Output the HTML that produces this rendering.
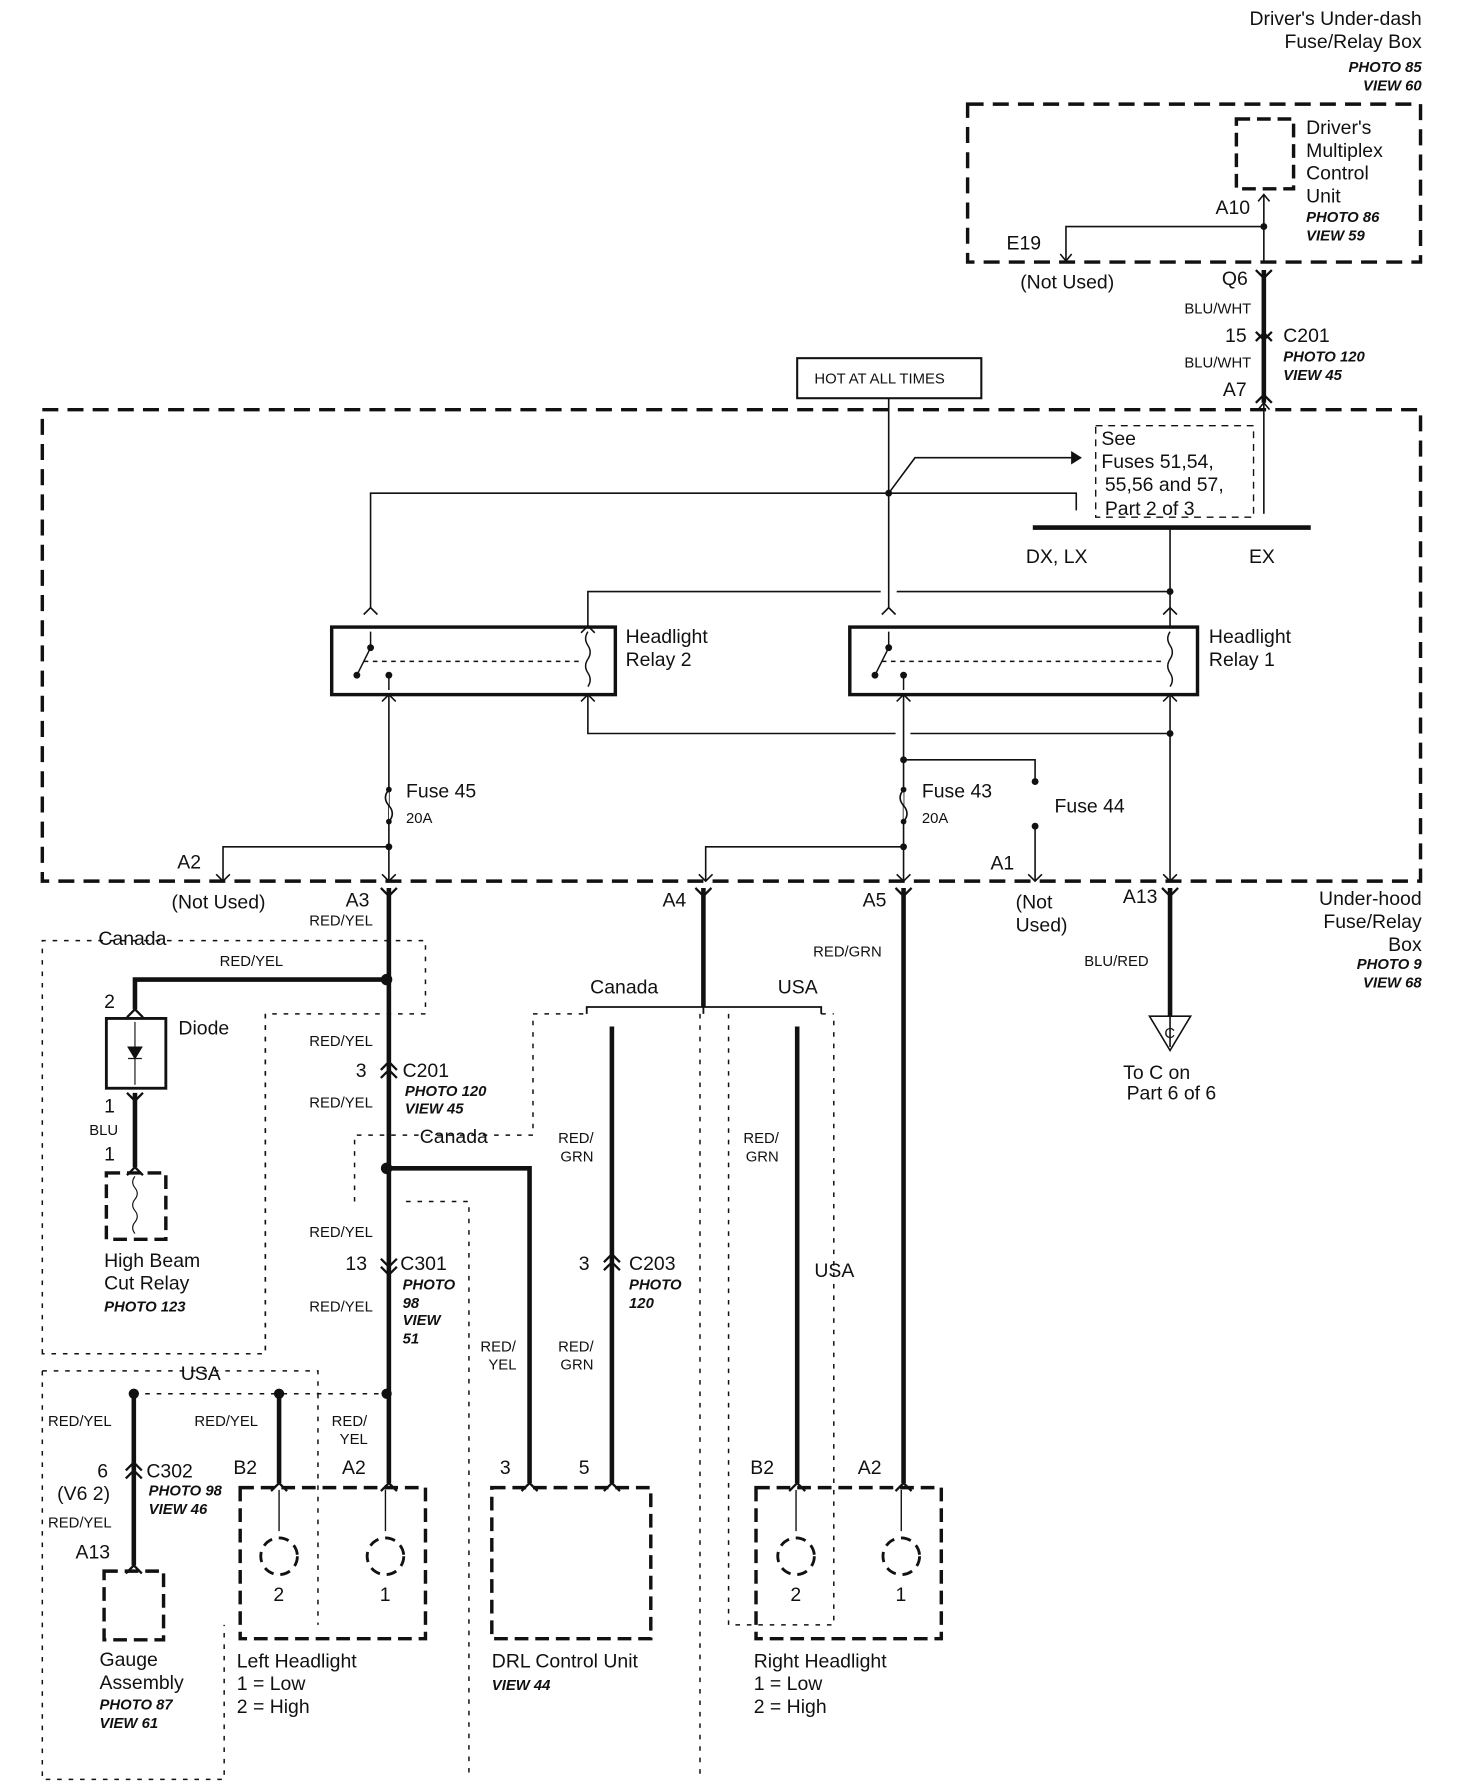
<!DOCTYPE html>
<html><head><meta charset="utf-8"><style>
html,body{margin:0;padding:0;background:#fff}
svg{display:block}
text{font-family:"Liberation Sans",sans-serif;fill:#111}
.t{font-size:17px}
.s{font-size:13px}
.i{font-size:13px;font-style:italic;font-weight:bold}
.r{text-anchor:end}
</style></head><body>
<svg width="1472" height="1792" viewBox="0 0 1287 1566" preserveAspectRatio="none" xmlns="http://www.w3.org/2000/svg">
<g fill="none" stroke="#111">
<rect x="846" y="91" width="396" height="138" stroke-width="3" stroke-dasharray="14 8"/>
<rect x="1081" y="104" width="50" height="61" stroke-width="3" stroke-dasharray="12 6"/>
<rect x="37" y="358" width="1205" height="412" stroke-width="3" stroke-dasharray="14 8"/>
<rect x="697" y="313" width="161" height="35" stroke-width="1.8"/>
<rect x="958" y="372" width="138" height="80" stroke-width="1.2" stroke-dasharray="6 5"/>
<rect x="290" y="548" width="248" height="59" stroke-width="3"/>
<rect x="743" y="548" width="304" height="59" stroke-width="3"/>
<g stroke-width="1.4">
<path d="M1105 170V229M932 228V198H1105"/>
<path d="M1100 176L1105 170L1110 176M927 222L932 228L937 222"/>
<path d="M777 348V531"/>
<path d="M324 531V431H941V446M777 431L800 400H945"/>
<path d="M1105 352V449"/>
<path d="M1023 461V547M514 547V517H770M784 517H1023"/>
<path d="M340 607V770M514 607V641H783M796 641H1023M790 607V770M1023 607V770"/>
<path d="M790 664H905V683M905 722V770M340 740H195V770M790 740H617V770"/>
<path d="M318 537L324 531L330 537M508 553L514 547L520 553M771 537L777 531L783 537M1017 537L1023 531L1029 537M334 613L340 607L346 613M508 613L514 607L520 613M784 613L790 607L796 613M1017 613L1023 607L1029 613"/>
<path d="M189 764L195 770L201 764M334 764L340 770L346 764M611 764L617 770L623 764M784 764L790 770L796 764M899 764L905 770L911 764M1017 764L1023 770L1029 764"/>
<path d="M1100 358L1105 352L1110 358"/>
</g>
<path d="M945 400L937 395V405Z" fill="#111"/>
<path d="M903 461H1146" stroke-width="4"/>
<path d="M340 690q-6 7 0 14q6 7 0 14M790 690q-6 7 0 14q6 7 0 14" stroke-width="1.4" fill="#fff"/>
<g stroke-width="1.3">
<path d="M324 552L324 566L312 590M777 552L777 566L765 590M340 590V603M790 590V603"/>
<path d="M318 578H508M771 578H1017" stroke-dasharray="4 4"/>
<path d="M514 552q-4 6 0 12q4 6 0 12q-4 6 0 12q4 6 0 12M1023 552q-4 6 0 12q4 6 0 12q-4 6 0 12q4 6 0 12"/>
</g>
<g stroke-width="4">
<path d="M1105 236V352M340 776V1296M615 776V880M790 776V1296M1023 776V888"/>
<path d="M338 856H118V882M118 955V1020M338 1021H463V1296M535 897V1296M697 897V1296M117 1218V1368M244 1218V1296"/>
</g>
<g stroke-width="2">
<path d="M1098 236L1105 243L1112 236M1098 290L1105 297L1112 290M1098 298L1105 291L1112 298M1098 352L1105 345L1112 352"/>
<path d="M333 776L340 783L347 776M608 776L615 783L622 776M783 776L790 783L797 776M1016 776L1023 783L1030 776"/>
<path d="M111 889L118 882L125 889M111 955L118 962L125 955M111 1027L118 1020L125 1027"/>
<path d="M333 935L340 928L347 935M333 942L340 935L347 942M333 1100L340 1107L347 1100M333 1107L340 1114L347 1107"/>
<path d="M528 1103L535 1096L542 1103M528 1110L535 1103L542 1110M110 1285L117 1278L124 1285M110 1292L117 1285L124 1292"/>
<path d="M237 1303L244 1296L251 1303M333 1303L340 1296L347 1303M456 1303L463 1296L470 1303M528 1303L535 1296L542 1303M690 1303L697 1296L704 1303M783 1303L790 1296L797 1303M110 1375L117 1368L124 1375"/>
</g>
<path d="M1023 888V915" stroke-width="1.4"/>
<path d="M1005 888H1041L1023 918Z" stroke-width="1.4"/>
<path d="M513 886V880H718V886M615 880V886" stroke-width="1.6"/>
<rect x="93" y="890" width="52" height="61" stroke-width="2.5"/>
<path d="M118 893V948" stroke-width="1"/>
<path d="M112 915H124L118 925Z M112 925H124" fill="#111" stroke-width="1"/>
<rect x="93" y="1025" width="52" height="58" stroke-width="3" stroke-dasharray="12 6"/>
<path d="M118 1028q-4 5 0 10q4 5 0 10q-4 5 0 10q4 5 0 10q-4 5 0 10" stroke-width="1"/>
<rect x="91" y="1373" width="52" height="60" stroke-width="3" stroke-dasharray="12 6"/>
<rect x="210" y="1300" width="162" height="132" stroke-width="3" stroke-dasharray="12 6"/>
<rect x="430" y="1300" width="139" height="132" stroke-width="3" stroke-dasharray="12 6"/>
<rect x="661" y="1300" width="162" height="132" stroke-width="3" stroke-dasharray="12 6"/>
<g stroke-width="2.5" stroke-dasharray="9 6"><circle cx="244" cy="1360" r="16"/><circle cx="337" cy="1360" r="16"/><circle cx="696" cy="1360" r="16"/><circle cx="788" cy="1360" r="16"/></g>
<path d="M244 1302V1338M337 1302V1338M696 1302V1338M788 1302V1338" stroke-width="1.2"/>
<g stroke-width="1.3" stroke-dasharray="4 6">
<path d="M37 1183V822H372V886H232V1183Z"/>
<path d="M232 886V1183M310 1050V992H466V886H513M355 1050H410V1555M37 1198H278V1218M37 1198V1555H196V1420M612 886V1555M637 886V1420H729V886M718 886H729M117 1218H338M278 1218V1420"/>
</g>
</g>
<g fill="#111">
<circle cx="1105" cy="198" r="3"/><circle cx="777" cy="431" r="3"/><circle cx="1023" cy="517" r="3"/><circle cx="1023" cy="641" r="3"/>
<circle cx="790" cy="664" r="3"/><circle cx="340" cy="740" r="3"/><circle cx="790" cy="740" r="3"/>
<circle cx="905" cy="683" r="3"/><circle cx="905" cy="722" r="3"/>
<circle cx="340" cy="690" r="2.5"/><circle cx="340" cy="718" r="2.5"/><circle cx="790" cy="690" r="2.5"/><circle cx="790" cy="718" r="2.5"/>
<circle cx="324" cy="566" r="3"/><circle cx="312" cy="590" r="3"/><circle cx="340" cy="590" r="3"/>
<circle cx="777" cy="566" r="3"/><circle cx="765" cy="590" r="3"/><circle cx="790" cy="590" r="3"/>
<circle cx="338" cy="856" r="5"/><circle cx="338" cy="1021" r="5"/><circle cx="117" cy="1218" r="4.5"/><circle cx="244" cy="1218" r="4.5"/><circle cx="338" cy="1218" r="4.5"/>
</g>
<text class="t r" x="1243" y="22">Driver's Under-dash</text>
<text class="t r" x="1243" y="42">Fuse/Relay Box</text>
<text class="i r" x="1243" y="63">PHOTO 85</text>
<text class="i r" x="1243" y="79">VIEW 60</text>
<text class="t" x="1142" y="117">Driver's</text><text class="t" x="1142" y="137">Multiplex</text><text class="t" x="1142" y="157">Control</text><text class="t" x="1142" y="177">Unit</text>
<text class="i" x="1142" y="194">PHOTO 86</text><text class="i" x="1142" y="210">VIEW 59</text>
<text class="t r" x="1093" y="187">A10</text><text class="t" x="880" y="218">E19</text>
<text class="t" x="892" y="252">(Not Used)</text><text class="t r" x="1091" y="249">Q6</text>
<text class="s r" x="1094" y="274">BLU/WHT</text><text class="t r" x="1090" y="299">15</text>
<text class="t" x="1122" y="299">C201</text><text class="i" x="1122" y="316">PHOTO 120</text><text class="i" x="1122" y="332">VIEW 45</text>
<text class="s r" x="1094" y="321">BLU/WHT</text><text class="t r" x="1090" y="346">A7</text>
<text class="s" x="712" y="335">HOT AT ALL TIMES</text>
<text class="t" x="963" y="389">See</text><text class="t" x="963" y="409">Fuses 51,54,</text><text class="t" x="966" y="429">55,56 and 57,</text><text class="t" x="966" y="450">Part 2 of 3</text>
<text class="t" x="897" y="492">DX, LX</text><text class="t" x="1092" y="492">EX</text>
<text class="t" x="547" y="562">Headlight</text><text class="t" x="547" y="582">Relay 2</text>
<text class="t" x="1057" y="562">Headlight</text><text class="t" x="1057" y="582">Relay 1</text>
<text class="t" x="355" y="697">Fuse  45</text><text class="s" x="355" y="719">20A</text>
<text class="t" x="806" y="697">Fuse  43</text><text class="s" x="806" y="719">20A</text>
<text class="t" x="922" y="710">Fuse  44</text>
<text class="t" x="155" y="759">A2</text><text class="t" x="866" y="760">A1</text>
<text class="t" x="150" y="794">(Not Used)</text><text class="t r" x="323" y="792">A3</text>
<text class="t r" x="600" y="792">A4</text><text class="t r" x="775" y="792">A5</text>
<text class="t" x="888" y="794">(Not</text><text class="t" x="888" y="814">Used)</text>
<text class="t r" x="1012" y="789">A13</text>
<text class="t r" x="1243" y="791">Under-hood</text><text class="t r" x="1243" y="811">Fuse/Relay</text><text class="t r" x="1243" y="831">Box</text>
<text class="i r" x="1243" y="847">PHOTO 9</text><text class="i r" x="1243" y="863">VIEW 68</text>
<text class="s r" x="326" y="809">RED/YEL</text><text class="s" x="711" y="836">RED/GRN</text><text class="s" x="948" y="844">BLU/RED</text>
<text class="s" x="1018" y="907">C</text>
<text class="t" x="982" y="943">To C on</text><text class="t" x="985" y="961">Part 6 of 6</text>
<text class="t" x="86" y="826">Canada</text><text class="s" x="192" y="844">RED/YEL</text>
<text class="t" x="91" y="881">2</text><text class="t" x="156" y="904">Diode</text>
<text class="t" x="91" y="972">1</text><text class="s" x="78" y="992">BLU</text><text class="t" x="91" y="1014">1</text>
<text class="t" x="91" y="1107">High Beam</text><text class="t" x="91" y="1127">Cut Relay</text><text class="i" x="91" y="1146">PHOTO 123</text>
<text class="s r" x="326" y="914">RED/YEL</text><text class="t" x="311" y="941">3</text>
<text class="t" x="352" y="941">C201</text><text class="i" x="354" y="958">PHOTO 120</text><text class="i" x="354" y="973">VIEW 45</text>
<text class="s r" x="326" y="968">RED/YEL</text><text class="t" x="367" y="999">Canada</text>
<text class="s r" x="326" y="1081">RED/YEL</text><text class="t" x="302" y="1110">13</text>
<text class="t" x="350" y="1110">C301</text><text class="i" x="352" y="1127">PHOTO</text><text class="i" x="352" y="1143">98</text><text class="i" x="352" y="1158">VIEW</text><text class="i" x="352" y="1174">51</text>
<text class="s r" x="326" y="1146">RED/YEL</text>
<text class="t" x="158" y="1206">USA</text>
<text class="s" x="42" y="1246">RED/YEL</text><text class="s" x="170" y="1246">RED/YEL</text>
<text class="s" x="290" y="1246">RED/</text><text class="s" x="297" y="1262">YEL</text>
<text class="t" x="85" y="1291">6</text><text class="t" x="50" y="1311">(V6 2)</text>
<text class="t" x="128" y="1291">C302</text><text class="i" x="130" y="1307">PHOTO 98</text><text class="i" x="130" y="1323">VIEW 46</text>
<text class="s" x="42" y="1335">RED/YEL</text><text class="t" x="66" y="1362">A13</text>
<text class="t" x="87" y="1456">Gauge</text><text class="t" x="87" y="1476">Assembly</text><text class="i" x="87" y="1494">PHOTO 87</text><text class="i" x="87" y="1510">VIEW 61</text>
<text class="t" x="204" y="1288">B2</text><text class="t" x="299" y="1288">A2</text>
<text class="t" x="239" y="1399">2</text><text class="t" x="332" y="1399">1</text>
<text class="t" x="207" y="1457">Left Headlight</text><text class="t" x="207" y="1477">1 = Low</text><text class="t" x="207" y="1497">2 = High</text>
<text class="t" x="516" y="868">Canada</text><text class="t" x="680" y="868">USA</text>
<text class="s" x="488" y="999">RED/</text><text class="s" x="490" y="1015">GRN</text>
<text class="t" x="506" y="1110">3</text><text class="t" x="550" y="1110">C203</text><text class="i" x="550" y="1127">PHOTO</text><text class="i" x="550" y="1143">120</text>
<text class="s" x="420" y="1181">RED/</text><text class="s" x="427" y="1197">YEL</text>
<text class="s" x="488" y="1181">RED/</text><text class="s" x="490" y="1197">GRN</text>
<text class="t" x="437" y="1288">3</text><text class="t" x="506" y="1288">5</text>
<text class="t" x="430" y="1457">DRL Control Unit</text><text class="i" x="430" y="1477">VIEW 44</text>
<text class="s" x="650" y="999">RED/</text><text class="s" x="652" y="1015">GRN</text>
<text class="t" x="712" y="1116">USA</text>
<text class="t" x="656" y="1288">B2</text><text class="t" x="750" y="1288">A2</text>
<text class="t" x="691" y="1399">2</text><text class="t" x="783" y="1399">1</text>
<text class="t" x="659" y="1457">Right Headlight</text><text class="t" x="659" y="1477">1 = Low</text><text class="t" x="659" y="1497">2 = High</text>
</svg>
</body></html>
